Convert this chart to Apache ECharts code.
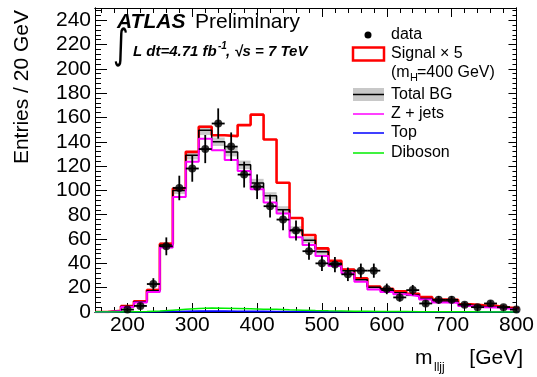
<!DOCTYPE html>
<html>
<head>
<meta charset="utf-8">
<script src="https://cdn.jsdelivr.net/npm/echarts/dist/echarts.min.js"></script>
<style>
html,body{margin:0;padding:0;background:#fff;}
#chart{width:537px;height:377px;}
</style>
</head>
<body>
<div id="chart"></div>
<script>
// bin centres (20 GeV bins)
const centers = [160,180,200,220,240,260,280,300,320,340,360,380,400,420,440,460,480,500,520,540,560,580,600,620,640,660,680,700,720,740,760,780,800];
const dataCounts = [null,null,2,5,23,54,102,118,134,155,136,113,103,87,76,67,50,40,39,31,34,34,19,12,18,7,10,10,6,4,7,4,2];
const dataErr = [0,0,1.41,2.24,4.8,7.35,10.1,10.86,11.58,12.45,11.66,10.63,10.15,9.33,8.72,8.19,7.07,6.32,6.24,5.57,5.83,5.83,4.36,3.46,4.24,2.65,3.16,3.16,2.45,2,2.65,2,1.41];
const totalBG = [0,1,4.5,8.5,17.5,55,100,129,149.5,140,131.5,121,106,95.5,84,67.5,59,49.5,40,34,26.5,20.3,17.8,15.8,14,11.2,8.6,8.4,5.6,4.6,4.1,3.0,2.2];
const bgErr = [0,0.3,0.8,1.2,1.8,2.5,3,3.5,4,3.5,3.5,3.5,3.5,3,3,3,2.5,2.5,2,2,1.8,1.5,1.3,1.2,1.1,1,0.9,0.8,0.7,0.6,0.5,0.4,0.3];
const zJets = [0,0.9,4.2,7.8,16.5,53,94.5,123.5,142.5,133,125,116,101,90,81,61.5,55,46,37.8,31.8,24.9,18.6,16.4,14.6,13,10.3,7.8,7.6,5,4,3.6,2.6,1.8];
const topQuark = [0,0,0.05,0.1,0.2,0.4,0.6,0.7,0.8,0.7,0.6,0.5,0.5,0.4,0.4,0.3,0.3,0.2,0.2,0.15,0.1,0.1,0.1,0.1,0.05,0.05,0.05,0.05,0,0,0,0,0];
const diboson = [0,0.1,0.3,0.5,0.8,1.5,2.2,2.8,3.2,3,2.8,2.6,2.3,2.2,1.8,1.5,1.2,1.0,0.9,0.7,0.6,0.5,0.4,0.35,0.3,0.25,0.2,0.2,0.15,0.1,0.1,0.1,0.1];
const signalX5 = [0,1,4.8,8.8,18,56,101.6,131.7,152.3,145.4,144.6,153.7,162.3,141.9,106.3,77.3,63.3,52.3,42.2,35,27.7,21,19,17,15,12.3,10.2,10,6.4,5.6,5,3.6,2.9];
const xTickLabels = [200,300,400,500,600,700,800];
const yTickLabels = [0,20,40,60,80,100,120,140,160,180,200,220,240];

const HALF = 10; // half bin width
const FONT = '"Liberation Sans", Arial, Helvetica, sans-serif';
const xMinor = []; for (let v = 160; v <= 800; v += 20) xMinor.push(v);
const yMinor = []; for (let v = 0; v <= 248; v += 4) yMinor.push(v);

function stepPts(vals) {
  const pts = [];
  centers.forEach((c, i) => { pts.push([c - HALF, vals[i]]); pts.push([c + HALF, vals[i]]); });
  return pts;
}
function histLine(name, vals, color, width, z) {
  return { name, type: 'line', data: stepPts(vals), symbol: 'none', showSymbol: false,
    lineStyle: { color, width }, itemStyle: { color }, clip: true, z, silent: true };
}

const chart = echarts.init(document.getElementById('chart'), null, { renderer: 'canvas' });

function xAx(pos, ticks, len, labels) {
  return { type: 'value', min: 150, max: 800, position: pos,
    axisLine: { show: true, onZero: false, lineStyle: { color: '#000', width: 1 } },
    axisTick: { show: true, inside: true, length: len, customValues: ticks, lineStyle: { color: '#000', width: 1 } },
    axisLabel: labels ? { show: true, customValues: xTickLabels, fontSize: 21, color: '#000', margin: 3, fontFamily: FONT } : { show: false },
    splitLine: { show: false } };
}
function yAx(pos, ticks, len, labels) {
  return { type: 'value', min: 0, max: 250, position: pos,
    axisLine: { show: true, onZero: false, lineStyle: { color: '#000', width: 1 } },
    axisTick: { show: true, inside: true, length: len, customValues: ticks, lineStyle: { color: '#000', width: 1 } },
    axisLabel: labels ? { show: true, customValues: yTickLabels, fontSize: 21, color: '#000', margin: 4, fontFamily: FONT } : { show: false },
    splitLine: { show: false } };
}

const bandData = centers.map((c, i) => [c, totalBG[i], bgErr[i]]);
const ptsData = [];
const errData = [];
centers.forEach((c, i) => { if (dataCounts[i] !== null) { ptsData.push([c, dataCounts[i]]); errData.push([c, dataCounts[i], dataErr[i]]); } });

const option = {
  animation: false,
  textStyle: { fontFamily: FONT },
  grid: { left: 95, right: 15, top: 8, bottom: 65, containLabel: false },
  xAxis: [ xAx('bottom', xTickLabels, 9, true), xAx('bottom', xMinor, 5, false),
           xAx('top', xTickLabels, 9, false), xAx('top', xMinor, 5, false) ],
  yAxis: [ yAx('left', yTickLabels, 12, true), yAx('left', yMinor, 6, false),
           yAx('right', yTickLabels, 8, false), yAx('right', yMinor, 4, false) ],
  series: [
    { name: 'Total BG band', type: 'custom', data: bandData, z: 1, clip: true, silent: true,
      renderItem(params, api) {
        const c = api.value(0), v = api.value(1), e = api.value(2);
        const p1 = api.coord([c - HALF, v + e]);
        const p2 = api.coord([c + HALF, v - e]);
        const rect = echarts.graphic.clipRectByRect(
          { x: p1[0], y: p1[1], width: p2[0] - p1[0], height: Math.max(p2[1] - p1[1], 0.5) },
          { x: params.coordSys.x, y: params.coordSys.y, width: params.coordSys.width, height: params.coordSys.height });
        return rect && { type: 'rect', shape: rect, style: { fill: '#c8c8c8' } };
      } },
    histLine('Signal x 5', signalX5, '#ff0000', 2.6, 2),
    histLine('Total BG', totalBG, '#000000', 1.5, 3),
    histLine('Z + jets', zJets, '#ff00ff', 2, 4),
    histLine('Top', topQuark, '#0000ff', 1.6, 5),
    histLine('Diboson', diboson, '#00ee00', 1.5, 6),
    { name: 'data err', type: 'custom', data: errData, z: 8, clip: true, silent: true,
      renderItem(params, api) {
        const c = api.value(0), v = api.value(1), e = api.value(2);
        const t = api.coord([c, v + e]), b = api.coord([c, v - e]);
        const l = api.coord([c - HALF, v]), r = api.coord([c + HALF, v]);
        const st = { stroke: '#000', lineWidth: 1.8 };
        return { type: 'group', children: [
          { type: 'line', shape: { x1: t[0], y1: t[1], x2: b[0], y2: b[1] }, style: st },
          { type: 'line', shape: { x1: l[0], y1: l[1], x2: r[0], y2: r[1] }, style: st } ] };
      } },
    { name: 'data', type: 'scatter', data: ptsData, symbol: 'circle', symbolSize: 8, z: 9,
      itemStyle: { color: '#000' }, clip: true, silent: true }
  ],
  graphic: [
    { type: 'text', x: 117, y: 22, style: { text: 'ATLAS', font: 'italic bold 21px ' + FONT, fill: '#000', verticalAlign: 'middle' } },
    { type: 'text', x: 195, y: 22, style: { text: 'Preliminary', font: '21px ' + FONT, fill: '#000', verticalAlign: 'middle' } },
    { type: 'text', x: 113, y: 47, scaleY: 1.35, style: { text: '\u222B', font: '30px "DejaVu Sans"', fill: '#000', verticalAlign: 'middle' } },
    { type: 'text', x: 133, y: 52, style: { text: 'L dt=4.71 fb', font: 'italic bold 15px ' + FONT, fill: '#000', verticalAlign: 'middle' } },
    { type: 'text', x: 218, y: 46, style: { text: '-1', font: 'italic bold 10px ' + FONT, fill: '#000', verticalAlign: 'middle' } },
    { type: 'text', x: 226, y: 52, style: { text: ', \u221As = 7 TeV', font: 'italic bold 15px ' + FONT, fill: '#000', verticalAlign: 'middle' } },

    { type: 'text', x: 22, y: 10, rotation: Math.PI / 2, style: { text: 'Entries / 20 GeV', font: '21px ' + FONT, fill: '#000', align: 'right', verticalAlign: 'middle' } },

    { type: 'text', x: 415, y: 358, style: { text: 'm', font: '21px ' + FONT, fill: '#000', verticalAlign: 'middle' } },
    { type: 'text', x: 434, y: 368, style: { text: 'lljj', font: '12px ' + FONT, fill: '#000', verticalAlign: 'middle' } },
    { type: 'text', x: 523, y: 358, style: { text: '[GeV]', font: '21px ' + FONT, fill: '#000', align: 'right', verticalAlign: 'middle' } },

    // legend
    { type: 'circle', shape: { cx: 368, cy: 35, r: 3.5 }, style: { fill: '#000' } },
    { type: 'text', x: 391, y: 35, style: { text: 'data', font: '16px ' + FONT, fill: '#000', verticalAlign: 'middle' } },
    { type: 'rect', shape: { x: 353, y: 47.5, width: 31, height: 13 }, style: { fill: 'none', stroke: '#ff0000', lineWidth: 2.5 } },
    { type: 'text', x: 391, y: 54, style: { text: 'Signal \u00D7 5', font: '16px ' + FONT, fill: '#000', verticalAlign: 'middle' } },
    { type: 'text', x: 391, y: 73, style: { text: '(m', font: '16px ' + FONT, fill: '#000', verticalAlign: 'middle' } },
    { type: 'text', x: 410, y: 78, style: { text: 'H', font: '11px ' + FONT, fill: '#000', verticalAlign: 'middle' } },
    { type: 'text', x: 417, y: 73, style: { text: '=400 GeV)', font: '16px ' + FONT, fill: '#000', verticalAlign: 'middle' } },
    { type: 'rect', shape: { x: 353, y: 88, width: 31, height: 13 }, style: { fill: '#c8c8c8' } },
    { type: 'line', shape: { x1: 353, y1: 94.5, x2: 384, y2: 94.5 }, style: { stroke: '#000', lineWidth: 1.5 } },
    { type: 'text', x: 391, y: 95, style: { text: 'Total BG', font: '16px ' + FONT, fill: '#000', verticalAlign: 'middle' } },
    { type: 'line', shape: { x1: 353, y1: 114, x2: 384, y2: 114 }, style: { stroke: '#ff00ff', lineWidth: 1.5 } },
    { type: 'text', x: 391, y: 114, style: { text: 'Z + jets', font: '16px ' + FONT, fill: '#000', verticalAlign: 'middle' } },
    { type: 'line', shape: { x1: 353, y1: 133, x2: 384, y2: 133 }, style: { stroke: '#0000ff', lineWidth: 1.5 } },
    { type: 'text', x: 391, y: 133, style: { text: 'Top', font: '16px ' + FONT, fill: '#000', verticalAlign: 'middle' } },
    { type: 'line', shape: { x1: 353, y1: 153, x2: 384, y2: 153 }, style: { stroke: '#00ee00', lineWidth: 1.5 } },
    { type: 'text', x: 391, y: 153, style: { text: 'Diboson', font: '16px ' + FONT, fill: '#000', verticalAlign: 'middle' } }
  ]
};
chart.setOption(option);
</script>
</body>
</html>
